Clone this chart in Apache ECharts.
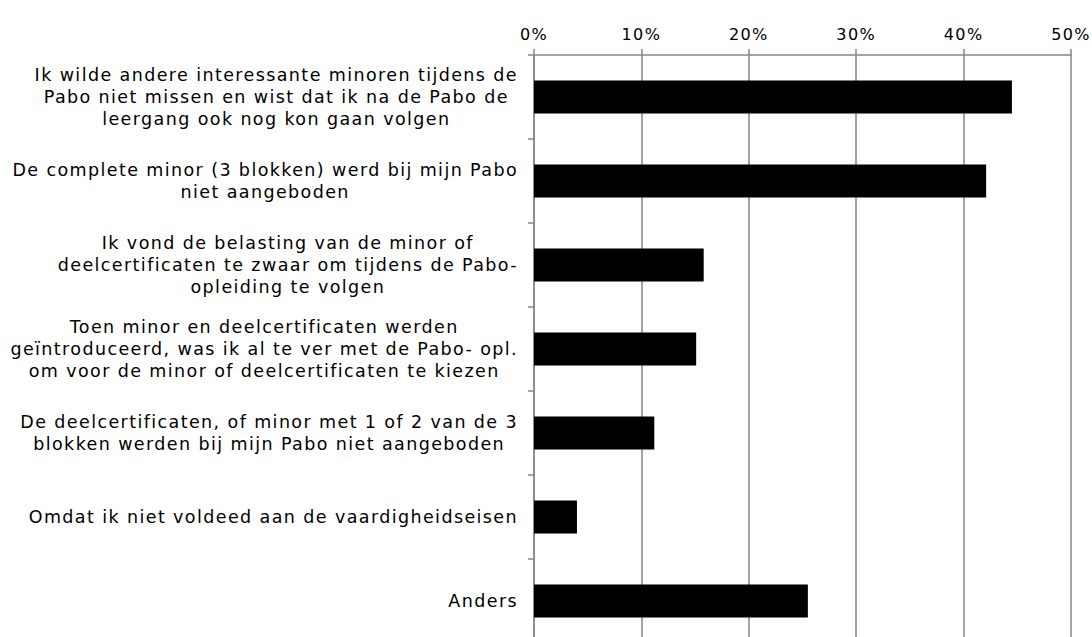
<!DOCTYPE html>
<html>
<head>
<meta charset="utf-8">
<script src="https://cdn.jsdelivr.net/npm/echarts@6/dist/echarts.min.js"></script>
<style>
  html, body { margin: 0; padding: 0; background: #fff; }
  #chart { width: 1092px; height: 637px; }
  #chart text { letter-spacing: 1.4px; }
</style>
</head>
<body>
<div id="chart"></div>
<script>
var categories = [
    'Ik wilde andere interessante minoren tijdens de\nPabo niet missen en wist dat ik na de Pabo de\nleergang ook nog kon gaan volgen',
    'De complete minor (3 blokken) werd bij mijn Pabo\nniet aangeboden',
    'Ik vond de belasting van de minor of\ndeelcertificaten te zwaar om tijdens de Pabo-\nopleiding te volgen',
    'Toen minor en deelcertificaten werden\ngeïntroduceerd, was ik al te ver met de Pabo- opl.\nom voor de minor of deelcertificaten te kiezen',
    'De deelcertificaten, of minor met 1 of 2 van de 3\nblokken werden bij mijn Pabo niet aangeboden',
    'Omdat ik niet voldeed aan de vaardigheidseisen',
    'Anders'
];
var values = [44.5, 42.1, 15.8, 15.1, 11.2, 4.0, 25.5];
var tickLabels = ['0%', '10%', '20%', '30%', '40%', '50%'];

// text in the original is spaced out a bit; let the layout know about it
var spacing = 1.4;
var measureCtx = document.createElement('canvas').getContext('2d');
echarts.setPlatformAPI({
    measureText: function (text, font) {
        measureCtx.font = font || '12px sans-serif';
        var w = measureCtx.measureText(text).width;
        return { width: w + (text ? text.length * spacing : 0) };
    }
});

var chartDom = document.getElementById('chart');
var myChart = echarts.init(chartDom, null, { renderer: 'svg' });

var font = '"DejaVu Sans", sans-serif';
var gray = '#868686';

var option = {
    animation: false,
    grid: { left: 534, right: 21, top: 55, height: 588, outerBoundsMode: 'none' },
    xAxis: {
        type: 'value',
        position: 'top',
        min: 0,
        max: 50,
        interval: 10,
        axisLine: { show: true, lineStyle: { color: gray, width: 1.5 } },
        axisTick: { show: true, length: 6, lineStyle: { color: gray, width: 1.5 } },
        splitLine: { show: true, lineStyle: { color: gray, width: 1.5 } },
        axisLabel: {
            margin: 12,
            color: '#000',
            fontFamily: font,
            fontSize: 16,
            formatter: function (v) { return tickLabels[Math.round(v / 10)]; }
        }
    },
    yAxis: {
        type: 'category',
        inverse: true,
        data: categories,
        axisLine: { show: true, lineStyle: { color: gray, width: 1.5 } },
        axisTick: { show: true, length: 6, lineStyle: { color: gray, width: 1.5 } },
        axisLabel: {
            margin: 16,
            color: '#000',
            fontFamily: font,
            fontSize: 17.5,
            lineHeight: 22,
            align: 'right',
            formatter: function (v) {
                return v.split('\n').map(function (l) { return '{c|' + l + '}'; }).join('\n');
            },
            rich: {
                c: { align: 'center', fontFamily: font, fontSize: 17.5, lineHeight: 22, color: '#000' }
            }
        }
    },
    series: [
        {
            type: 'bar',
            data: values,
            barWidth: '39%',
            itemStyle: { color: '#000' }
        }
    ]
};

option && myChart.setOption(option);
</script>
</body>
</html>
